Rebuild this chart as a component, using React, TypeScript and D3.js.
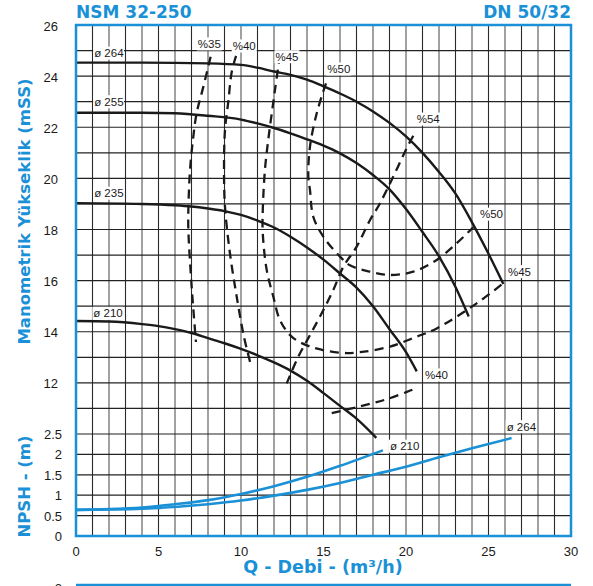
import React from 'react';
import * as d3 from 'd3';

// ---- tick values ----
const qTicks = [0, 5, 10, 15, 20, 25, 30];
const headTicks = [12, 14, 16, 18, 20, 22, 24, 26];
const npshTicks = [0, 0.5, 1, 1.5, 2, 2.5];

// ---- pump head curves [Q (m3/h), H (mSS)] ----
const head264 = [[0,24.53],[4,24.53],[8,24.5],[10,24.44],[11,24.33],[12,24.18],[13,24.05],[14,23.86],[15,23.6],[16,23.32],[17,23.0],[18,22.62],[19,22.17],[20,21.64],[21,21.0],[22,20.25],[23,19.4],[24,18.28],[25,17.05],[25.9,15.87]];
const head255 = [[0,22.57],[4,22.57],[6,22.55],[8,22.45],[10,22.3],[11,22.15],[12,21.97],[13,21.76],[14,21.53],[15,21.28],[16,20.98],[17,20.6],[18,20.13],[19,19.57],[20,18.8],[21,17.9],[22,16.95],[23,15.75],[23.8,14.6]];
const head235 = [[0,19.03],[4,19.0],[6,18.95],[7,18.9],[8,18.82],[9,18.72],[10,18.57],[11,18.35],[12,18.08],[13,17.72],[14,17.3],[15,16.82],[16,16.28],[17,15.73],[18,15.0],[19,14.1],[20,13.2],[20.65,12.45]];
const head210 = [[0,14.42],[2,14.4],[4,14.3],[5,14.22],[6,14.1],[7,13.95],[8,13.75],[9,13.55],[10,13.33],[11,13.08],[12,12.8],[13,12.48],[14,12.08],[15,11.6],[16,11.1],[17,10.6],[18.2,9.85]];

// ---- iso-efficiency curves [Q, H] ----
const eff35 = [[8.16,24.76],[7.72,23.59],[7.31,22.55],[7.11,21.63],[6.91,20.33],[6.81,18.76],[6.81,17.98],[7.01,15.76],[7.27,13.6]];
const eff40 = [[9.7,24.79],[9.44,24.17],[9.23,23.0],[9.03,21.89],[8.97,20.33],[9.03,18.89],[9.33,17.07],[9.74,15.37],[10.18,13.8],[10.55,12.82]];
const eff40low = [[15.5,10.82],[17.21,11.08],[18.83,11.36],[20.35,11.72],[20.65,11.79]];
const eff45 = [[12.36,24.83],[12.06,23.46],[11.65,21.5],[11.45,20.33],[11.32,18.76],[11.32,17.85],[11.56,16.41],[11.96,15.37],[12.36,14.46],[13.07,13.81],[14.18,13.42],[16.0,13.18],[17.21,13.2],[19.03,13.42],[20.65,13.81],[21.86,14.13],[24.28,15.11],[25.9,15.9]];
const eff50 = [[15.15,23.72],[14.59,22.55],[14.18,21.24],[14.08,20.07],[14.18,19.55],[14.38,18.5],[14.99,17.72],[16.0,16.94],[16.6,16.6],[17.82,16.35],[19.03,16.22],[20.44,16.35],[21.86,16.81],[23.07,17.46],[24.08,18.09]];
const eff54 = [[20.44,21.67],[20.04,21.18],[19.23,20.07],[18.42,19.02],[17.82,18.37],[17.01,17.33],[16.2,16.54],[15.59,15.63],[14.89,14.72],[14.18,13.87],[13.47,13.02],[12.77,11.98]];

// ---- NPSH curves [Q, NPSH (m)] ----
const npsh210 = [[0,0.64],[2,0.66],[4,0.7],[6,0.78],[8,0.88],[10,1.03],[12,1.22],[14,1.45],[16,1.72],[18.6,2.1]];
const npsh264 = [[0,0.64],[4,0.67],[8,0.78],[10,0.87],[12,0.99],[14,1.13],[16,1.3],[18,1.5],[20,1.7],[22,1.93],[24,2.15],[26.4,2.4]];

// ---- labels ----
const headLabels = ['ø 264', 'ø 255', 'ø 235', 'ø 210'];
const headLabelPos = [[1.1,24.9],[1.1,23.0],[1.1,19.42],[1.05,14.72]];
const effLabels = ['%35', '%40', '%45', '%50', '%54', '%50', '%45', '%40'];
const effLabelPos = [[7.38,25.26],[9.5,25.18],[12.09,24.76],[15.23,24.28],[20.65,22.32],[24.48,18.6],[26.18,16.35],[21.15,12.31]];
const npshLabels = ['ø 210', 'ø 264'];
const npshLabelPos = [[19.03,2.2],[26.1,2.68]];

const BLUE = '#1a90d6';
const NUM_FONT = '"Liberation Sans", Arial, sans-serif';
const TITLE_FONT = '"DejaVu Sans", Verdana, sans-serif';

function textW(s: string, size: number) {
  let w = 0;
  for (const c of s) {
    if (c === '%') w += 0.889;
    else if (c === ' ') w += 0.278;
    else w += 0.556;
  }
  return w * size;
}

function Label({ x, y, text }: { x: number; y: number; text: string }) {
  const fs = 11.5;
  const w = textW(text, fs);
  return (
    <g>
      <rect x={x - 1} y={y - 6.5} width={w + 2} height={13} fill="#fff" />
      <text x={x} y={y + 4} fontSize={fs} fontFamily={NUM_FONT} fill="#1a1a1a">{text}</text>
    </g>
  );
}

export default function App() {
  const W = 593, H = 586;
  const x = d3.scaleLinear().domain([0, 30]).range([76, 571]);
  const yH = d3.scaleLinear().domain([10, 26]).range([434, 25]);
  const yN = d3.scaleLinear().domain([0, 2.5]).range([536, 434]);

  const headLine = d3.line<number[]>().x(d => x(d[0])).y(d => yH(d[1])).curve(d3.curveMonotoneX);
  const effLine = d3.line<number[]>().x(d => x(d[0])).y(d => yH(d[1])).curve(d3.curveCatmullRom.alpha(0.5));
  const npshLine = d3.line<number[]>().x(d => x(d[0])).y(d => yN(d[1])).curve(d3.curveMonotoneX);

  const vGrid = d3.range(1, 30);
  const hGridHead = d3.range(11, 26);
  const hGridNpsh = [0.5, 1, 1.5, 2, 2.5];

  return (
    <div style={{ position: 'absolute', left: 0, top: 0 }}>
      <svg width={W} height={H} style={{ display: 'block', background: '#fff' }}>
        {/* grid */}
        <g>
          {vGrid.map(q => (
            <line key={'v' + q} x1={x(q)} x2={x(q)} y1={yN(0)} y2={yH(26)} stroke={q % 2 ? '#2a2a2a' : '#555'} strokeWidth={1.1} />
          ))}
          {hGridHead.map(h => (
            <line key={'h' + h} x1={x(0)} x2={x(30)} y1={yH(h)} y2={yH(h)} stroke="#222" strokeWidth={1.2} />
          ))}
          {hGridNpsh.map(n => (
            <line key={'n' + n} x1={x(0)} x2={x(30)} y1={yN(n)} y2={yN(n)} stroke="#222" strokeWidth={1.2} />
          ))}
        </g>

        {/* efficiency curves */}
        <g fill="none" stroke="#1a1a1a" strokeWidth={2.3} strokeDasharray="9 6">
          {[eff35, eff40, eff40low, eff45, eff50, eff54].map((d, i) => (
            <path key={'e' + i} d={effLine(d) || ''} />
          ))}
        </g>

        {/* head curves */}
        <g fill="none" stroke="#1a1a1a" strokeWidth={2.4}>
          {[head264, head255, head235, head210].map((d, i) => (
            <path key={'h' + i} d={headLine(d) || ''} />
          ))}
        </g>

        {/* NPSH curves */}
        <g fill="none" stroke={BLUE} strokeWidth={2.6}>
          <path d={npshLine(npsh210) || ''} />
          <path d={npshLine(npsh264) || ''} />
        </g>

        {/* labels */}
        {headLabels.map((t, i) => (
          <Label key={'hl' + i} x={x(headLabelPos[i][0])} y={yH(headLabelPos[i][1])} text={t} />
        ))}
        {effLabels.map((t, i) => (
          <Label key={'el' + i} x={x(effLabelPos[i][0])} y={yH(effLabelPos[i][1])} text={t} />
        ))}
        {npshLabels.map((t, i) => (
          <Label key={'nl' + i} x={x(npshLabelPos[i][0])} y={yN(npshLabelPos[i][1])} text={t} />
        ))}

        {/* frame */}
        <rect x={x(0)} y={yH(26)} width={x(30) - x(0)} height={yN(0) - yH(26)} fill="none" stroke={BLUE} strokeWidth={2.5} />
        <line x1={x(0)} x2={x(30)} y1={585} y2={585} stroke={BLUE} strokeWidth={2.5} />

        {/* tick labels */}
        <g fontFamily={NUM_FONT} fontSize={13} fill="#1a1a1a">
          {headTicks.map(t => (
            <text key={'ht' + t} x={58} y={yH(t) + 5.5} textAnchor="end">{t}</text>
          ))}
          {npshTicks.map(t => (
            <text key={'nt' + t} x={62} y={yN(t) + 5} textAnchor="end">{t}</text>
          ))}
          {qTicks.map(t => (
            <text key={'qt' + t} x={x(t)} y={556} textAnchor="middle">{t}</text>
          ))}
          <text x={62} y={593} textAnchor="end">2</text>
        </g>

        {/* titles */}
        <g fontFamily={TITLE_FONT} fontWeight="bold" fill={BLUE}>
          <text x={76} y={17.5} fontSize={17}>NSM 32-250</text>
          <text x={571} y={17.5} fontSize={17} textAnchor="end">DN 50/32</text>
          <text x={323} y={573} fontSize={17.5} textAnchor="middle">Q - Debi - (m³/h)</text>
          <text transform="translate(29.5,211.5) rotate(-90)" fontSize={16.5} textAnchor="middle">Manometrik Yükseklik (mSS)</text>
          <text transform="translate(29.5,486.5) rotate(-90)" fontSize={16.5} textAnchor="middle">NPSH - (m)</text>
        </g>
      </svg>
    </div>
  );
}
